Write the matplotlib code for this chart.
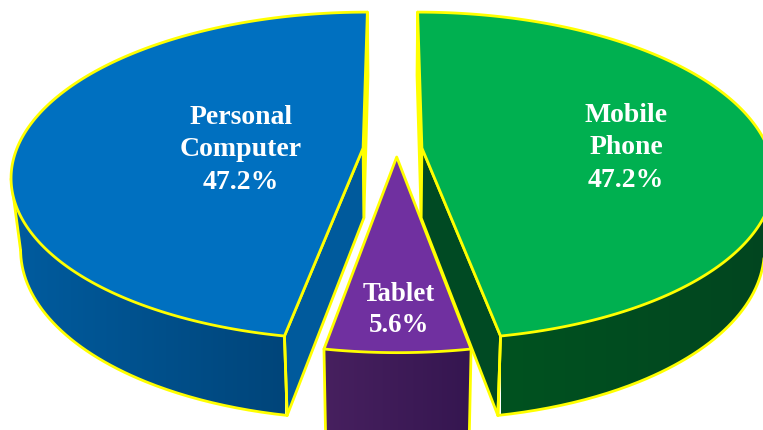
import numpy as np
import matplotlib
matplotlib.use("Agg")
import matplotlib.pyplot as plt
from matplotlib.patches import Polygon
from matplotlib.colors import to_rgb

# data
names = ["Personal\nComputer", "Mobile\nPhone", "Tablet"]
shares = [47.2, 47.2, 5.6]

# style
top_colors = ["#0070c0", "#00b050", "#7030a0"]
inner_colors = ["#005a9c", "#004a23", "#3f1c5c"]
grad_left = ["#005c9f", "#00521f", "#47205f"]
grad_right = ["#00457a", "#024520", "#351650"]
explode = [(-0.085, 0.0), (0.085, 0.0), (0.012, 0.056)]
extra_depth = [0.0, 0.0, 12.0]
label_pos = [(241, 150), (626, 148), (399, 310)]
label_size = [20, 20, 19.4]
label_spacing = [1.4, 1.4, 1.36]
YEL = "#ffff00"
LW = 2.0

CX, CY_TOP, CY_BOT = 392.5, 148.0, 218.0
S, B, K = 346.0, 159.0, 0.17
SX_BOT, SY_BOT = 0.975, 1.05


def project(phi_deg, r, ex, ey, drop=None):
    p = np.radians(phi_deg)
    X = r * np.sin(p) + ex
    Y = r * np.cos(p) + ey
    d = 1 - K * Y
    x, y = S * X / d, B * Y / d
    if drop is not None:
        return CX + SX_BOT * x, CY_BOT + SY_BOT * y + drop
    return CX + x, CY_TOP + y


half = 360 * shares[2] / 200
span = [360 * v / 100 for v in shares]
ranges = [(-half, -half - span[0]), (half, half + span[1]), (-half, half)]

fig = plt.figure(figsize=(7.63, 4.30), dpi=100)
ax = fig.add_axes([0, 0, 1, 1])
ax.axis("off")

z = [10]


def nz():
    z[0] += 1
    return z[0]


def wall(phi, ex, ey, color, drop):
    ax.add_patch(Polygon(
        [project(phi, 0, ex, ey), project(phi, 1, ex, ey),
         project(phi, 1, ex, ey, drop), project(phi, 0, ex, ey, drop)],
        closed=True, fc=color, ec=YEL, lw=LW, joinstyle="round", zorder=nz()))


def line(xs, ys):
    ax.plot(xs, ys, color=YEL, lw=LW, solid_capstyle="round",
            solid_joinstyle="round", zorder=nz())


for i in range(3):
    ex, ey = explode[i]
    drop = extra_depth[i]
    a0, a1 = ranges[i]
    phis = np.linspace(a0, a1, 360)
    tx, ty = project(phis, 1, ex, ey)
    bx, by = project(phis, 1, ex, ey, drop)
    if i < 2:
        wall(a1, ex, ey, inner_colors[i], drop)
    # only the part of the outer wall that faces the viewer
    if i == 0:
        a, b = np.argmin(tx), np.argmin(bx)
    elif i == 1:
        a, b = np.argmax(tx), np.argmax(bx)
    else:
        a, b = len(phis) - 1, len(phis) - 1
    x0, x1 = min(tx.min(), bx.min()), max(tx.max(), bx.max())
    if i == 0:
        x1 = tx[0]
    elif i == 1:
        x0 = tx[0]
    cl, cr = np.array(to_rgb(grad_left[i])), np.array(to_rgb(grad_right[i]))
    t = np.linspace(0, 1, 256)[None, :, None]
    grad = cl[None, None, :] + (cr - cl)[None, None, :] * t
    outline = Polygon(
        np.column_stack([np.r_[tx[:a + 1], bx[:b + 1][::-1]],
                         np.r_[ty[:a + 1], by[:b + 1][::-1]]]),
        closed=True, transform=ax.transData, fc="none", ec="none")
    im = ax.imshow(grad, extent=[x0, x1, 450, 0], aspect="auto", zorder=nz(),
                   interpolation="bilinear")
    im.set_clip_path(outline)
    line(bx[:b + 1], by[:b + 1])
    if i < 2:
        line([tx[a], bx[b]], [ty[a], by[b]])
        wall(a0, ex, ey, inner_colors[i], drop)
    else:
        line([tx[0], bx[0]], [ty[0], by[0]])
        line([tx[-1], bx[-1]], [ty[-1], by[-1]])
    pts = [project(0, 0, ex, ey)] + list(zip(tx, ty))
    ax.add_patch(Polygon(pts, closed=True, fc=top_colors[i], ec=YEL, lw=LW,
                         joinstyle="round", zorder=nz()))
    if i < 2:
        line([tx[0], bx[0]], [ty[0], by[0]])

for i in range(3):
    ax.text(label_pos[i][0], label_pos[i][1],
            f"{names[i]}\n{shares[i]:.1f}%",
            ha="center", va="center", color="white", fontsize=label_size[i],
            fontweight="bold", family="Liberation Serif",
            linespacing=label_spacing[i], zorder=1000)

ax.set_xlim(0, 763)
ax.set_ylim(430, 0)
fig.savefig("out.png", dpi=100, facecolor="white")
